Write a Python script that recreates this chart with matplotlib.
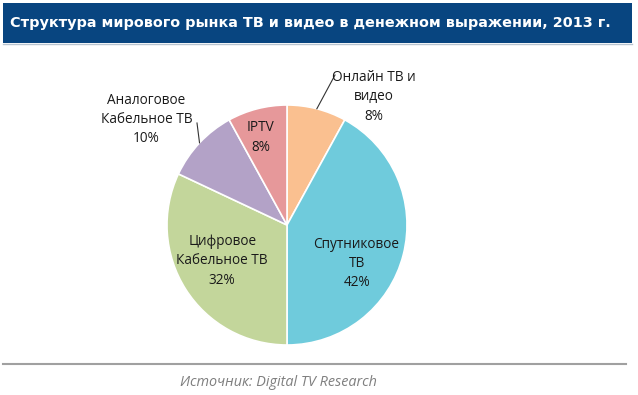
import numpy as np
import matplotlib.pyplot as plt
from matplotlib.patches import Rectangle
from matplotlib.lines import Line2D

# ----------------------------
# Data
# ----------------------------
TITLE = "Структура мирового рынка ТВ и видео в денежном выражении, 2013 г."
SOURCE = "Источник: Digital TV Research"

segments = ["Онлайн ТВ и\nвидео", "Спутниковое\nТВ", "Цифровое\nКабельное ТВ",
            "Аналоговое\nКабельное ТВ", "IPTV"]
shares = [8, 42, 32, 10, 8]
colors = ["#FAC090", "#6FCBDC", "#C3D69B", "#B3A2C7", "#E6989A"]

# label placement (axes data units, radius = 1)
label_pos = [(0.72, 1.07), (0.58, -0.32), (-0.54, -0.30), (-1.17, 0.88), (-0.22, 0.73)]
has_leader = [True, False, False, True, False]
leader_end = {0: (0.40, 1.25), 3: (-0.75, 0.85)}

W, H = 638, 395
fig = plt.figure(figsize=(W / 100, H / 100), dpi=100)
plt.rcParams["font.family"] = ["Open Sans", "DejaVu Sans"]

# title bar
fig.patches.append(Rectangle((3 / W, 1 - 43 / H), 629 / W, 40 / H,
                             transform=fig.transFigure, facecolor="#084580",
                             edgecolor="none"))
fig.lines.append(Line2D([3 / W, 632 / W], [1 - 44 / H, 1 - 44 / H],
                        transform=fig.transFigure, color="#B8C4D0", lw=1))
fig.text(10 / W, 1 - 23 / H, TITLE, color="white", fontsize=10.4,
         fontweight="bold", family=["DejaVu Sans"], va="center", ha="left")

# pie
cx, cy, r = 287, 225, 120
ax = fig.add_axes([(cx - r) / W, (H - cy - r) / H, 2 * r / W, 2 * r / H])
wedges, _ = ax.pie(shares, colors=colors, startangle=90, counterclock=False,
                   radius=1, wedgeprops=dict(edgecolor="white", linewidth=1.2))
ax.set_xlim(-1, 1)
ax.set_ylim(-1, 1)
ax.set_aspect("equal")
ax.axis("off")

for i, (w, name, val) in enumerate(zip(wedges, segments, shares)):
    x, y = label_pos[i]
    ax.text(x, y, f"{name}\n{val}%", ha="center", va="center", fontsize=9.8,
            color="#1A1A1A", linespacing=1.4, clip_on=False)
    if has_leader[i]:
        mid = np.deg2rad((w.theta1 + w.theta2) / 2)
        ex, ey = leader_end[i]
        ax.plot([np.cos(mid), ex], [np.sin(mid), ey], color="#333333", lw=0.8,
                clip_on=False)

# bottom rule and source
fig.lines.append(Line2D([3 / W, 626 / W], [1 - 364 / H, 1 - 364 / H],
                        transform=fig.transFigure, color="#A0A0A0", lw=1.5))
fig.text(180 / W, 1 - 382 / H, SOURCE, color="#7F7F7F", fontsize=10.4,
         style="italic", va="center", ha="left")

fig.savefig("out.png", dpi=100)
